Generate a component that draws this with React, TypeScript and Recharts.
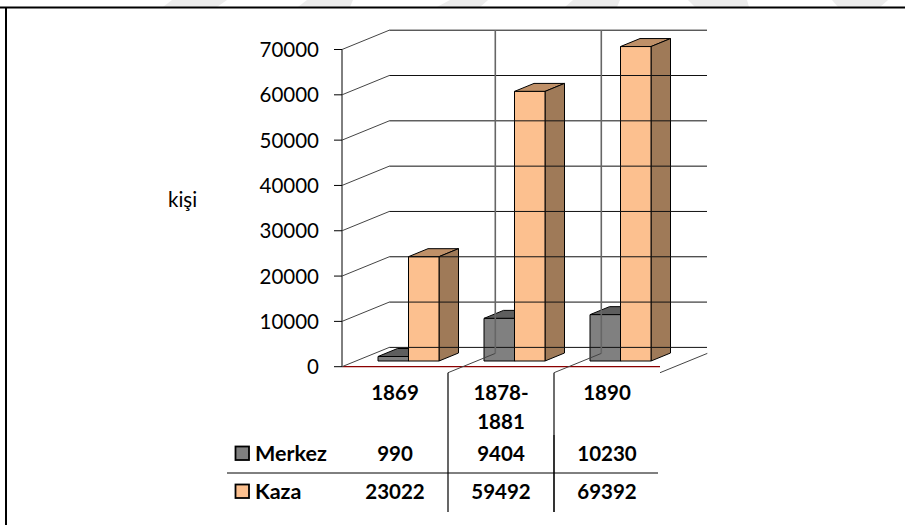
import React from 'react';
import { BarChart, Bar, XAxis, YAxis } from 'recharts';

const categories = ['1869', '1878- 1881', '1890'];
const merkez = [990, 9404, 10230];
const kaza = [23022, 59492, 69392];
const yTicks = [0, 10000, 20000, 30000, 40000, 50000, 60000, 70000];
const merkezName = 'Merkez';
const kazaName = 'Kaza';
const unitLabel = 'kişi';

const rows = categories.map((c, i) => ({ c, merkez: merkez[i], kaza: kaza[i] }));

const FONT = 'Lato, Carlito, sans-serif';
const FS = 20.5;
const WALL_DX = 47.3;
const WALL_DY = 19.3;
const BACK_RIGHT = 707;
const BAND = 106;

const watermark = [
  '172,0 227,0 217,7 163,7',
  '307,0 353,0 350,7 298,7',
  '450,0 488,0 480,7 437,7',
  '573,0 620,0 617,7 565,7',
  '688,0 747,0 749,7 695,7',
  '832,0 888,0 880,7 838,7',
];

const shape3d = (top: string, side: string) => (p: any) => {
  const dx = 13, dy = -5.7, dpx = 19.5, dpy = -8;
  const x = p.x + dx, y = p.y + dy, w = p.width, h = p.height;
  return (
    <g stroke="#000" strokeWidth={1} strokeLinejoin="round">
      <polygon points={`${x},${y} ${x + w},${y} ${x + w + dpx},${y + dpy} ${x + dpx},${y + dpy}`} fill={top} />
      <polygon points={`${x + w},${y} ${x + w + dpx},${y + dpy} ${x + w + dpx},${y + h + dpy} ${x + w},${y + h}`} fill={side} />
      <rect x={x} y={y} width={w} height={h} fill={p.fill} />
    </g>
  );
};

const YTick = (p: any) => {
  const { y, payload } = p;
  const ax = 342;
  return (
    <g>
      <text x={ax - 23} y={y + 7.5} textAnchor="end" fontFamily={FONT} fontSize={FS} fill="#000">{payload.value}</text>
      <line x1={ax - 8} x2={ax} y1={y} y2={y} stroke="#000" strokeWidth={1} />
      <line x1={ax} y1={y} x2={ax + WALL_DX} y2={y - WALL_DY} stroke="#444" strokeWidth={1} />
      <line x1={ax + WALL_DX} y1={y - WALL_DY} x2={BACK_RIGHT} y2={y - WALL_DY} stroke="#111" strokeWidth={1} />
    </g>
  );
};

const cellText = (x: number, y: number, t: any, key?: string) => (
  <text key={key} x={x} y={y} textAnchor="middle" fontFamily={FONT} fontSize={FS} fontWeight={700} fill="#000">{t}</text>
);

const XTick = (p: any) => {
  const { x, y, index, payload } = p;
  const axisY = y - 2;
  const topWall = 30;
  const right = x + BAND / 2;
  const lines = String(payload.value).split(' ');
  const inner = index < categories.length - 1;
  return (
    <g>
      <line x1={right} y1={axisY} x2={right + WALL_DX} y2={axisY - WALL_DY} stroke="#444" strokeWidth={1} />
      {inner && <line x1={right + WALL_DX} y1={topWall} x2={right + WALL_DX} y2={axisY - WALL_DY} stroke="#666" strokeWidth={1.6} />}
      {index === 0 && <line x1={right} y1={axisY} x2={right} y2={512} stroke="#000" strokeWidth={1.2} />}
      {index === 1 && <line x1={right} y1={axisY} x2={right} y2={435} stroke="#6e6e6e" strokeWidth={2} />}
      {index === 1 && <line x1={right} y1={435} x2={right} y2={512} stroke="#000" strokeWidth={1.6} />}
      {lines.map((l, i) => cellText(x, 400 + i * 29, l, String(i)))}
      {cellText(x, 461, merkez[index])}
      {cellText(x, 499, kaza[index])}
      {index === 0 && (
        <g>
          <line x1={227} x2={658} y1={473} y2={473} stroke="#000" strokeWidth={1} />
          <rect x={235.5} y={446.5} width={13.5} height={13.5} fill="#808080" stroke="#000" strokeWidth={1.8} />
          <rect x={235.5} y={484.5} width={13.5} height={13.5} fill="#fcc08f" stroke="#000" strokeWidth={1.8} />
          <text x={255} y={461} fontFamily={FONT} fontSize={21.5} fontWeight={700} fill="#000">{merkezName}</text>
          <text x={255} y={499} fontFamily={FONT} fontSize={21.5} fontWeight={700} fill="#000">{kazaName}</text>
        </g>
      )}
    </g>
  );
};

export default function App() {
  return (
    <div style={{ position: 'absolute', left: 0, top: 0, width: 905, height: 525, background: '#fff', overflow: 'hidden' }}>
      <svg width={905} height={525} style={{ position: 'absolute', left: 0, top: 0 }}>
        {watermark.map((pts, i) => <polygon key={i} points={pts} fill="#ececec" />)}
        <line x1={0} x2={905} y1={7.5} y2={7.5} stroke="#000" strokeWidth={2} />
        <line x1={6} x2={6} y1={7} y2={525} stroke="#000" strokeWidth={2} />
        <text x={168} y={207} fontFamily={FONT} fontSize={FS} fill="#000">{unitLabel}</text>
      </svg>
      <div style={{ position: 'absolute', left: 0, top: 0 }}>
        <BarChart
          width={905}
          height={525}
          data={rows}
          margin={{ left: 282, right: 245, top: 49.5, bottom: 128.3 }}
          barSize={30.5}
          barGap={0}
        >
          <YAxis
            width={60}
            domain={[0, 70000]}
            ticks={yTicks}
            interval={0}
            tickLine={false}
            axisLine={{ stroke: '#000', strokeWidth: 1 }}
            tick={YTick}
          />
          <XAxis
            dataKey="c"
            height={30}
            interval={0}
            tickLine={false}
            tickMargin={2}
            axisLine={{ stroke: '#8b0000', strokeWidth: 1.2 }}
            tick={XTick}
          />
          <Bar dataKey="merkez" name={merkezName} fill="#808080" isAnimationActive={false} shape={shape3d('#5e5e5e', '#5e5e5e')} />
          <Bar dataKey="kaza" name={kazaName} fill="#fcc08f" isAnimationActive={false} shape={shape3d('#bf9068', '#9f7a58')} />
        </BarChart>
      </div>
    </div>
  );
}
